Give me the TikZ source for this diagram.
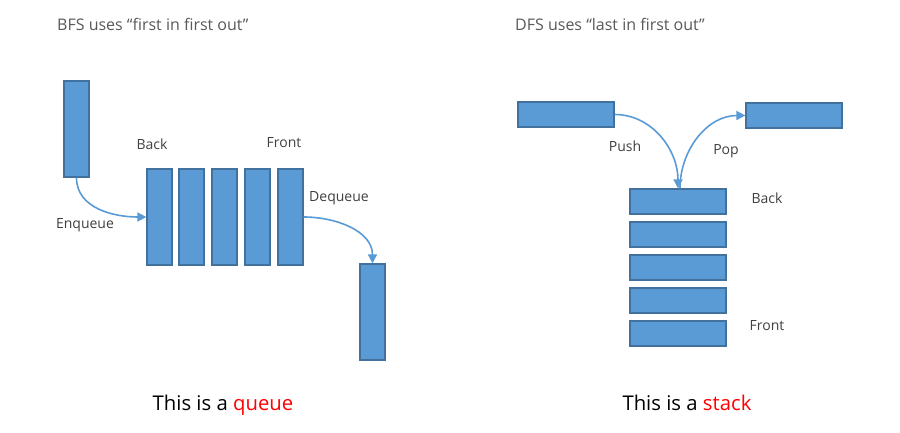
\documentclass[tikz,border=0pt]{standalone}
\usepackage{fontspec}
\setmainfont{Open Sans}
\usetikzlibrary{arrows.meta}
\definecolor{barfill}{HTML}{5B9BD5}
\definecolor{bardraw}{HTML}{41719C}
\definecolor{labelgray}{HTML}{404040}
\definecolor{titlegray}{HTML}{595959}
\begin{document}
\begin{tikzpicture}[x=1pt,y=-1pt,
  vbar/.style={draw=bardraw,fill=barfill,line width=1.2pt,minimum width=25pt,minimum height=96pt,inner sep=0pt},
  hbar/.style={draw=bardraw,fill=barfill,line width=1.2pt,minimum width=96pt,minimum height=25pt,inner sep=0pt},
  lbl/.style={text=labelgray,font=\fontsize{14}{16}\selectfont,inner sep=0pt},
  ttl/.style={text=titlegray,font=\fontsize{16}{18}\selectfont,inner sep=0pt,anchor=west},
  big/.style={text=black,font=\fontsize{20.3}{23}\selectfont,inner sep=0pt,anchor=base},
  conn/.style={draw=barfill,line width=1.6pt,-{Triangle[length=9pt,width=9pt]}}]
\useasboundingbox (0,0) rectangle (900,433);
\fill[white] (0,0) rectangle (900,433);
% titles
\node[ttl] (t1) at (57,24) {BFS uses “first in first out”};
\node[ttl] (t2) at (515,24) {DFS uses “last in first out”};
% queue
\node[vbar] (src) at (76.5,129) {};
\node[vbar] (q1) at (159.5,217) {};
\node[vbar] (q2) at (191.5,217) {};
\node[vbar] (q3) at (224.5,217) {};
\node[vbar] (q4) at (257.5,217) {};
\node[vbar] (q5) at (290.5,217) {};
\node[vbar] (deq) at (372.5,312) {};
\node[lbl] (lback) at (152,144) {Back};
\node[lbl] (lfront) at (284,143) {Front};
\node[lbl] (lenq) at (85,225) {Enqueue};
\node[lbl] (ldeq) at (339,198) {Dequeue};
\draw[conn] (src.south) to[out=-90,in=180] (q1.west);
\draw[conn] (q5.east) to[out=0,in=90] (deq.north);
% stack
\node[hbar] (push) at (566,114.5) {};
\node[hbar] (pop) at (794,115.5) {};
\node[hbar] (s1) at (678,201.5) {};
\node[hbar] (s2) at (678,234.5) {};
\node[hbar] (s3) at (678,267.5) {};
\node[hbar] (s4) at (678,300.5) {};
\node[hbar] (s5) at (678,333.5) {};
\node[lbl] (lpush) at (625,146) {Push};
\node[lbl] (lpop) at (726,151) {Pop};
\node[lbl] (lsback) at (767,198) {Back};
\node[lbl] (lsfront) at (767,326) {Front};
\draw[conn] (push.east) to[out=0,in=90] (s1.north);
\draw[conn] ([xshift=2pt]s1.north) to[out=90,in=180] (pop.west);
% captions
\node[big] (cq) at (223,410) {This is a \textcolor{red}{queue}};
\node[big] (cs) at (687,410) {This is a \textcolor{red}{stack}};
\end{tikzpicture}
\end{document}
